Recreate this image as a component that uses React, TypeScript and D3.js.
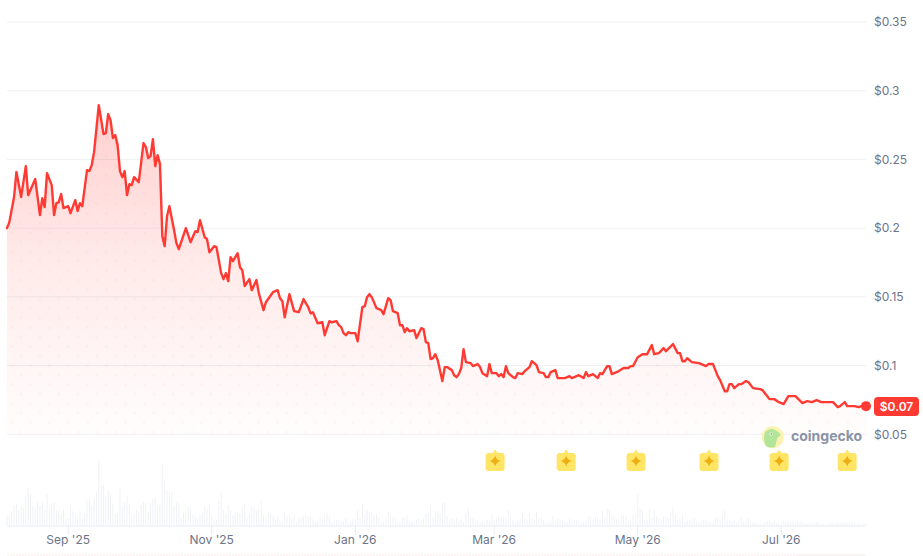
import React from "react";
import * as d3 from "d3";

// Days since 6 Aug 2025
const priceDays = [0,1,3,4,6,8,9,12,14,15,16,17,19,20,21,22,23,24,26,27,29,30,31,32,34,35,36,37,39,41,42,43,44,45,46,47,48,49,50,51,52,53,54,56,58,59,60,61,62,63,64,65,66,67,68,69,71,72,73,76,78,80,81,82,84,85,86,88,89,91,92,93,94,95,96,98,99,100,101,103,104,106,107,109,110,113,115,116,117,118,120,122,124,126,128,129,130,132,134,135,137,138,140,141,142,143,144,145,146,148,149,151,152,153,154,155,157,159,160,162,163,164,166,167,168,169,170,171,173,174,176,177,178,179,180,181,182,183,185,186,187,189,190,191,192,193,194,195,197,198,200,201,202,204,205,206,208,209,210,211,212,213,215,216,217,219,220,222,223,225,226,228,229,230,231,233,234,237,239,240,243,245,246,247,249,251,252,253,255,256,257,259,260,262,264,265,266,268,270,272,274,275,277,279,280,283,285,286,287,288,289,291,294,297,298,300,302,303,305,306,307,308,309,311,312,314,315,317,320,321,324,326,328,330,332,335,338,340,342,344,346,351,353,354,356,357,360,362,363,365];
const prices = [.2,.2044,.2226,.2408,.2226,.2451,.224,.2357,.2095,.2218,.2153,.24,.2313,.2095,.2182,.2189,.2248,.2146,.216,.2109,.2204,.2124,.2182,.216,.2422,.2415,.2459,.2553,.2895,.2684,.2692,.283,.2786,.2655,.2677,.2604,.2415,.2371,.2415,.224,.232,.2313,.2371,.2335,.2619,.259,.251,.2524,.2648,.2451,.2531,.2466,.1942,.1869,.2087,.216,.1985,.1891,.1847,.2,.1898,.1978,.1971,.2058,.1934,.192,.1825,.1869,.1862,.1673,.1629,.1673,.1615,.1789,.176,.1818,.1716,.1694,.1578,.1629,.1549,.1622,.1527,.1403,.1461,.1534,.1549,.149,.1469,.1352,.152,.1396,.1389,.1484,.1425,.138,.1388,.1308,.1315,.1221,.1323,.1315,.1323,.1294,.128,.1236,.1221,.1243,.1236,.1236,.1177,.1425,.1432,.1498,.152,.1498,.1418,.1403,.1374,.1491,.1476,.1396,.1381,.1294,.1294,.1243,.1272,.125,.1258,.12,.1272,.1265,.117,.1163,.1047,.1054,.1083,.104,.0887,.0989,.0989,.0967,.093,.0916,.0938,.0982,.112,.1025,.1018,.0996,.1011,.0989,.0945,.0923,.1011,.0945,.0945,.0923,.0938,.0916,.0996,.0945,.0916,.0909,.0945,.0938,.096,.0989,.1032,.1003,.0952,.0945,.0916,.0916,.0952,.0967,.0909,.0909,.0923,.0909,.093,.0909,.0952,.0923,.0938,.0909,.0945,.0938,.0996,.0996,.0938,.0952,.096,.0982,.0982,.0996,.0996,.1061,.1083,.1083,.1149,.1083,.1091,.1127,.1105,.1156,.1091,.1091,.1032,.1032,.1054,.1025,.1018,.0996,.1011,.1011,.0923,.0894,.0813,.0813,.0865,.0865,.0836,.0865,.0865,.0887,.088,.0836,.0829,.0822,.0756,.0756,.0734,.072,.0778,.0778,.0727,.0741,.0734,.0749,.0734,.0734,.0698,.0705,.0734,.0705,.0705,.0698,.0705,.0705];

const volumes = [10,9,14,20,22,15,19,18,29,38,31,19,17,23,20,23,15,32,18,22,23,15,15,12,16,6,7,19,14,11,9,15,7,13,25,28,19,27,34,65,40,41,29,35,31,22,12,12,37,20,23,30,21,9,11,16,14,21,23,23,14,
22,27,28,20,21,61,45,35,33,33,19,23,22,8,13,14,19,17,11,10,7,11,13,19,17,21,10,5,6,24,33,15,12,20,15,10,14,14,12,18,21,8,12,19,17,15,17,26,10,9,13,11,10,6,9,5,4,13,10,11,8,10,4,7,
8,9,11,10,9,6,3,4,9,7,10,12,9,3,4,6,6,4,4,7,2,4,7,6,15,8,22,10,15,14,14,10,11,8,3,4,8,13,10,9,8,3,4,8,9,10,4,4,3,6,7,5,7,12,13,19,9,14,15,12,23,23,10,5,7,6,7,5,6,3,13,17,9,7,5,6,3,4,3,6,5,11,6,7,9,8,8,8,16,9,5,3,5,7,12,7,6,13,7,6,14,8,8,5,3,3,4,10,5,7,7,5,4,4,7,6,6,6,5,2,3,5,9,9,7,9,8,6,
15,7,17,16,9,11,6,6,10,10,10,5,6,10,11,31,17,15,5,6,17,8,16,9,8,5,9,9,7,13,18,11,6,7,10,4,5,5,5,8,4,3,5,6,6,4,3,4,8,9,6,10,15,6,5,4,5,3,4,8,4,5,7,4,3,3,2,2,1,3,5,6,3,6,2,3,4,5,4,4,4,4,3,5,4,3,2,2,2,2,2,3,3,2,2,1,1,3,3,2,4,3,3,3,3,3,3,3,1,2,1,2,2];

const yTicks = [0.05, 0.1, 0.15, 0.2, 0.25, 0.3, 0.35];
const xTickDays = [26, 87, 148, 207, 268, 329];
const xTickLabels = ["Sep '25", "Nov '25", "Jan '26", "Mar '26", "May '26", "Jul '26"];
const markerDays = [207.4, 237.6, 267.3, 298.3, 328.1, 357];
const lastLabel = "$0.07";

const FONT = "Inter, sans-serif";
const TEXT = "#6b7489";
const RED = "#ff3a33";

const x = d3.scaleLinear().domain([0, 365]).range([7, 866]);
const y = d3.scaleLinear().domain([0.05, 0.35]).range([434.3, 22]);
const vy = d3.scaleLinear().domain([0, 65]).range([525.5, 460.5]);

const pts = priceDays.map((d, i) => [d, prices[i]] as [number, number]);
const linePath = d3.line<[number, number]>().x(d => x(d[0])).y(d => y(d[1]))(pts)!;
const areaPath = d3.area<[number, number]>().x(d => x(d[0])).y0(y(0.05)).y1(d => y(d[1]))(pts)!;

const last = pts[pts.length - 1];

function Marker({ cx }: { cx: number }) {
  return (
    <g transform={`translate(${cx},461)`}>
      <path
        d="M-6.5,-8 L-2.5,-8 L0,-11.5 L2.5,-8 L6.5,-8 Q9.5,-8 9.5,-5 L9.5,7 Q9.5,10 6.5,10 L-6.5,10 Q-9.5,10 -9.5,7 L-9.5,-5 Q-9.5,-8 -6.5,-8 Z"
        fill="#ffe566"
      />
      <path
        d="M0,-5.5 Q1,-1.2 5.5,0 Q1,1.2 0,5.5 Q-1,1.2 -5.5,0 Q-1,-1.2 0,-5.5 Z"
        fill="#edae12"
      />
    </g>
  );
}

export default function App() {
  return (
    <svg
      width={923}
      height={556}
      viewBox="0 0 923 556"
      style={{ position: "fixed", left: 0, top: 0, background: "#fff", display: "block" }}
      fontFamily={FONT}
    >
      <defs>
        <linearGradient id="areaGrad" gradientUnits="userSpaceOnUse" x1="0" x2="0" y1="105" y2="434">
          <stop offset="0" stopColor={RED} stopOpacity={0.24} />
          <stop offset="0.5" stopColor={RED} stopOpacity={0.1} />
          <stop offset="1" stopColor={RED} stopOpacity={0.01} />
        </linearGradient>
        <pattern id="dots" patternUnits="userSpaceOnUse" width="19" height="19" x="7" y="0">
          <circle cx="4.5" cy="4.5" r="1.7" fill={RED} fillOpacity={0.035} />
          <circle cx="14" cy="14" r="1.7" fill={RED} fillOpacity={0.035} />
        </pattern>
      </defs>

      {yTicks.map(t => (
        <g key={t}>
          <line x1={7} x2={866} y1={y(t)} y2={y(t)} stroke="#eff0f3" strokeWidth={1} />
          <text x={874} y={y(t)} dy="0.35em" fontSize={12} fill={TEXT}>{`$${t}`}</text>
        </g>
      ))}

      <path d={areaPath} fill="url(#areaGrad)" />
      <path d={areaPath} fill="url(#dots)" />
      <path d={linePath} fill="none" stroke={RED} strokeWidth={2.4} strokeLinejoin="round" strokeLinecap="round" />
      <circle cx={x(last[0])} cy={y(last[1])} r={5} fill={RED} />

      <rect x={874} y={397} width={45} height={19} rx={4} fill={RED} />
      <text x={896.5} y={406.5} dy="0.35em" textAnchor="middle" fontSize={12} fontWeight={600} fill="#fff">{lastLabel}</text>

      {volumes.map((v, i) => (
        <rect key={i} x={x(i) - 0.5} y={vy(v)} width={1} height={vy(0) - vy(v)} fill="#f0f2f6" />
      ))}
      <line x1={7} x2={866} y1={526} y2={526} stroke="#e7ecf2" strokeWidth={1} />

      {xTickDays.map((d, i) => (
        <g key={d}>
          <line x1={x(d)} x2={x(d)} y1={526} y2={535} stroke="#e7ecf2" strokeWidth={1} />
          <text x={x(d)} y={540} dy="0.35em" textAnchor="middle" fontSize={12} fill={TEXT}>{xTickLabels[i]}</text>
        </g>
      ))}

      <line x1={7} x2={798} y1={555} y2={555} stroke="#fde6e6" strokeWidth={1} strokeDasharray="2 1" />
      <line x1={798} x2={866} y1={555} y2={555} stroke="#f3e7ea" strokeWidth={1} />

      {markerDays.map(d => <Marker key={d} cx={x(d)} />)}

      <g>
        <circle cx={772.7} cy={437.3} r={11} fill="#fcf1ae" />
        <path
          d="M766,446 Q762.5,438 765,432.5 Q768,428.5 773,429 Q777,430.5 780.5,434 Q781,436 777.5,437.5 Q776.5,442 775,447 Q770,448.5 766,446 Z"
          fill="#b2e59a"
        />
        <circle cx={771} cy={434} r={1.5} fill="#fff" />
        <circle cx={771.2} cy={434} r={0.8} fill="#6c7a8c" />
        <text x={791} y={436} dy="0.35em" fontSize={14} fontWeight={700} fill="#8a92a6">coingecko</text>
      </g>
    </svg>
  );
}
